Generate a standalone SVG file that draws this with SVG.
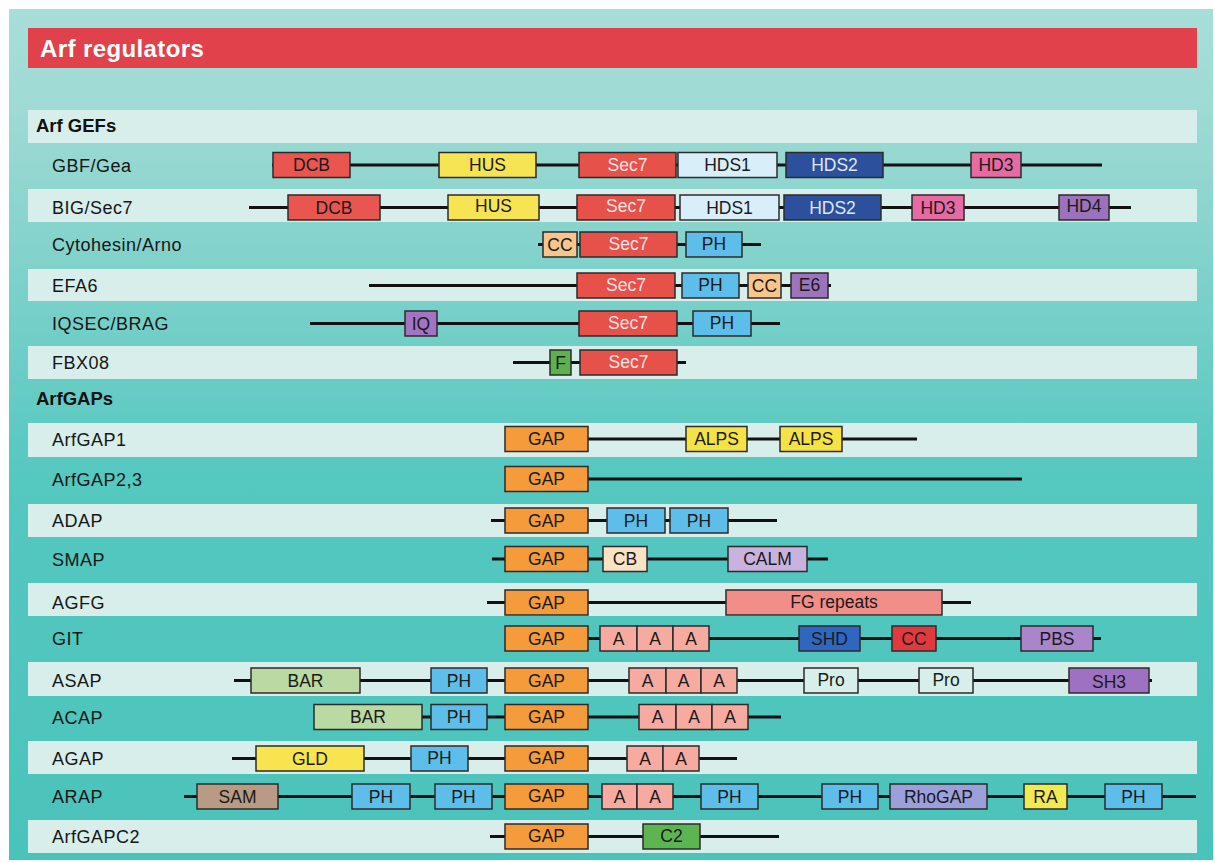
<svg xmlns="http://www.w3.org/2000/svg" width="1215" height="863" viewBox="0 0 1215 863">
<defs>
<linearGradient id="panel" x1="0" y1="0" x2="0" y2="1">
<stop offset="0" stop-color="#a8ded8"/>
<stop offset="0.12" stop-color="#9fdad4"/>
<stop offset="0.3" stop-color="#80d2cb"/>
<stop offset="0.55" stop-color="#55c8c0"/>
<stop offset="1" stop-color="#4ac3bb"/>
</linearGradient>
<style>
.lbl{font-family:"Liberation Sans",Arial,sans-serif;font-size:18px;letter-spacing:0.5px;fill:#161616}
.sec{font-family:"Liberation Sans",Arial,sans-serif;font-size:18.5px;font-weight:bold;fill:#111}
.d{font-family:"Liberation Sans",Arial,sans-serif;font-size:17.5px;text-anchor:middle;fill:#1a1a1a}
.w{fill:#fbe6e6}
.wb{fill:#dfe7f6}
.band{fill:#d8eeeb}
rect.b{stroke:#2b2b2b;stroke-width:1.5}
.bb{stroke:#111;stroke-width:3;fill:none}
.dcb{fill:#e9564f}.sec7{fill:#e6514a}.hus{fill:#f6e455}.hds1{fill:#d8effa}.hds2{fill:#2d509c}
.hd3{fill:#e66ba3}.hd4{fill:#9d72bd}.cc{fill:#f8c58c}.ph{fill:#5dbeea}.e6{fill:#9c74bb}
.iq{fill:#a374c4}.f{fill:#5cb24c}.gap{fill:#f59b3c}.alps{fill:#f6e244}.cb{fill:#fbe2c4}
.calm{fill:#c9b3de}.fg{fill:#f18e88}.a{fill:#f7aaa0}.shd{fill:#2f67c0}.ccr{fill:#e03a3e}
.pbs{fill:#a985c9}.bar{fill:#bbd9a3}.pro{fill:#d6efea}.sh3{fill:#9f71c3}.gld{fill:#f8e44e}
.sam{fill:#b99a84}.rho{fill:#9ca0da}.ra{fill:#f1ea52}.c2{fill:#5db552}
</style>
</defs>

<rect x="0" y="0" width="1215" height="863" fill="#ffffff"/>
<rect x="9" y="9" width="1204" height="851" fill="url(#panel)"/>

<g id="title">
<rect x="28" y="28" width="1169" height="40" fill="#e0414a"/>
<text x="40" y="57" font-family="Liberation Sans, Arial, sans-serif" font-size="24" font-weight="bold" letter-spacing="0.4" fill="#ffffff">Arf regulators</text>
</g>

<g id="bands">
<rect class="band" x="28" y="110" width="1169" height="33"/>
<rect class="band" x="28" y="189" width="1169" height="33"/>
<rect class="band" x="28" y="269" width="1169" height="32"/>
<rect class="band" x="28" y="346" width="1169" height="33"/>
<rect class="band" x="28" y="423" width="1169" height="34"/>
<rect class="band" x="28" y="504" width="1169" height="33"/>
<rect class="band" x="28" y="583" width="1169" height="33"/>
<rect class="band" x="28" y="662" width="1169" height="34"/>
<rect class="band" x="28" y="741" width="1169" height="33"/>
<rect class="band" x="28" y="820" width="1169" height="33"/>
</g>

<g id="section-gefs"><text class="sec" x="36" y="132">Arf GEFs</text></g>
<g id="section-gaps"><text class="sec" x="36" y="405">ArfGAPs</text></g>

<g id="connectors">
<line class="bb" x1="272" y1="165" x2="1102" y2="165"/>
<line class="bb" x1="249" y1="207.5" x2="1131" y2="207.5"/>
<line class="bb" x1="538" y1="244.5" x2="761" y2="244.5"/>
<line class="bb" x1="369" y1="285.5" x2="831" y2="285.5"/>
<line class="bb" x1="310" y1="323.5" x2="780" y2="323.5"/>
<line class="bb" x1="513" y1="362.5" x2="686" y2="362.5"/>
<line class="bb" x1="587" y1="439" x2="917" y2="439"/>
<line class="bb" x1="587" y1="479" x2="1022" y2="479"/>
<line class="bb" x1="491" y1="520.5" x2="777" y2="520.5"/>
<line class="bb" x1="492" y1="559" x2="828" y2="559"/>
<line class="bb" x1="487" y1="602.5" x2="971" y2="602.5"/>
<line class="bb" x1="587" y1="638.5" x2="1101" y2="638.5"/>
<line class="bb" x1="234" y1="680.5" x2="1152" y2="680.5"/>
<line class="bb" x1="314" y1="717" x2="781" y2="717"/>
<line class="bb" x1="232" y1="758.5" x2="737" y2="758.5"/>
<line class="bb" x1="184" y1="796.5" x2="1196" y2="796.5"/>
<line class="bb" x1="490" y1="836.5" x2="779" y2="836.5"/>
</g>

<g id="row-gbf">
<text class="lbl" x="52" y="171.5">GBF/Gea</text>
<rect class="b dcb" x="273" y="152.5" width="77" height="25"/><text class="d" x="311.5" y="171">DCB</text>
<rect class="b hus" x="439" y="152.5" width="97" height="25"/><text class="d" x="487.5" y="171">HUS</text>
<rect class="b sec7" x="579" y="152.5" width="97" height="25"/><text class="d w" x="627.5" y="171">Sec7</text>
<rect class="b hds1" x="678" y="152.5" width="99" height="25"/><text class="d" x="727.5" y="171">HDS1</text>
<rect class="b hds2" x="786" y="152.5" width="97" height="25"/><text class="d wb" x="834.5" y="171">HDS2</text>
<rect class="b hd3" x="971" y="152.5" width="50" height="25"/><text class="d" x="996" y="171">HD3</text>
</g>

<g id="row-big">
<text class="lbl" x="52" y="214">BIG/Sec7</text>
<rect class="b dcb" x="288" y="195" width="92" height="25"/><text class="d" x="334" y="213.5">DCB</text>
<rect class="b hus" x="448" y="195" width="91" height="25"/><text class="d" x="493.5" y="211.5">HUS</text>
<rect class="b sec7" x="577" y="195" width="98" height="25"/><text class="d w" x="626" y="211.5">Sec7</text>
<rect class="b hds1" x="680" y="195" width="99" height="25"/><text class="d" x="729.5" y="213.5">HDS1</text>
<rect class="b hds2" x="784" y="195" width="97" height="25"/><text class="d wb" x="832.5" y="213.5">HDS2</text>
<rect class="b hd3" x="912" y="195" width="52" height="25"/><text class="d" x="938" y="213.5">HD3</text>
<rect class="b hd4" x="1059" y="195" width="50" height="25"/><text class="d" x="1084" y="211.5">HD4</text>
</g>

<g id="row-cytohesin">
<text class="lbl" x="52" y="251">Cytohesin/Arno</text>
<rect class="b cc" x="543" y="232" width="34" height="25"/><text class="d" x="560" y="250.5">CC</text>
<rect class="b sec7" x="580" y="232" width="97" height="25"/><text class="d w" x="628.5" y="249.5">Sec7</text>
<rect class="b ph" x="686" y="232" width="56" height="25"/><text class="d" x="714" y="249.5">PH</text>
</g>

<g id="row-efa6">
<text class="lbl" x="52" y="292">EFA6</text>
<rect class="b sec7" x="577" y="273" width="98" height="25"/><text class="d w" x="626" y="290.5">Sec7</text>
<rect class="b ph" x="682" y="273" width="57" height="25"/><text class="d" x="710.5" y="290.5">PH</text>
<rect class="b cc" x="748" y="273" width="33" height="25"/><text class="d" x="764.5" y="291.5">CC</text>
<rect class="b e6" x="791" y="273" width="37" height="25"/><text class="d" x="809.5" y="291">E6</text>
</g>

<g id="row-iqsec">
<text class="lbl" x="52" y="330">IQSEC/BRAG</text>
<rect class="b iq" x="405" y="311" width="32" height="25"/><text class="d" x="421" y="329.5">IQ</text>
<rect class="b sec7" x="579" y="311" width="98" height="25"/><text class="d w" x="628" y="328.5">Sec7</text>
<rect class="b ph" x="693" y="311" width="58" height="25"/><text class="d" x="722" y="328.5">PH</text>
</g>

<g id="row-fbx08">
<text class="lbl" x="52" y="369">FBX08</text>
<rect class="b f" x="550" y="350" width="21" height="25"/><text class="d" x="560.5" y="368.5">F</text>
<rect class="b sec7" x="580" y="350" width="97" height="25"/><text class="d w" x="628.5" y="367.5">Sec7</text>
</g>

<g id="row-arfgap1">
<text class="lbl" x="52" y="445.5">ArfGAP1</text>
<rect class="b gap" x="505" y="426.5" width="83" height="25"/><text class="d" x="546.5" y="445">GAP</text>
<rect class="b alps" x="686" y="426.5" width="61" height="25"/><text class="d" x="716.5" y="445">ALPS</text>
<rect class="b alps" x="780" y="426.5" width="62" height="25"/><text class="d" x="811" y="445">ALPS</text>
</g>

<g id="row-arfgap23">
<text class="lbl" x="52" y="485.5">ArfGAP2,3</text>
<rect class="b gap" x="505" y="466.5" width="83" height="25"/><text class="d" x="546.5" y="485">GAP</text>
</g>

<g id="row-adap">
<text class="lbl" x="52" y="527">ADAP</text>
<rect class="b gap" x="505" y="508" width="83" height="25"/><text class="d" x="546.5" y="526.5">GAP</text>
<rect class="b ph" x="607" y="508" width="58" height="25"/><text class="d" x="636" y="526.5">PH</text>
<rect class="b ph" x="670" y="508" width="58" height="25"/><text class="d" x="699" y="526.5">PH</text>
</g>

<g id="row-smap">
<text class="lbl" x="52" y="565.5">SMAP</text>
<rect class="b gap" x="505" y="546.5" width="83" height="25"/><text class="d" x="546.5" y="565">GAP</text>
<rect class="b cb" x="603" y="546.5" width="44" height="25"/><text class="d" x="625" y="565">CB</text>
<rect class="b calm" x="728" y="546.5" width="79" height="25"/><text class="d" x="767.5" y="565">CALM</text>
</g>

<g id="row-agfg">
<text class="lbl" x="52" y="609">AGFG</text>
<rect class="b gap" x="505" y="590" width="83" height="25"/><text class="d" x="546.5" y="608.5">GAP</text>
<rect class="b fg" x="726" y="590" width="216" height="25"/><text class="d" x="834" y="607.5">FG repeats</text>
</g>

<g id="row-git">
<text class="lbl" x="52" y="645">GIT</text>
<rect class="b gap" x="505" y="626" width="83" height="25"/><text class="d" x="546.5" y="644.5">GAP</text>
<rect class="b a" x="600" y="626" width="37" height="25"/><text class="d" x="618.5" y="644.5">A</text>
<rect class="b a" x="637" y="626" width="36" height="25"/><text class="d" x="655" y="644.5">A</text>
<rect class="b a" x="673" y="626" width="36" height="25"/><text class="d" x="691" y="644.5">A</text>
<rect class="b shd" x="799" y="626" width="61" height="25"/><text class="d" x="829.5" y="644.5">SHD</text>
<rect class="b ccr" x="892" y="626" width="44" height="25"/><text class="d" x="914" y="644.5">CC</text>
<rect class="b pbs" x="1021" y="626" width="72" height="25"/><text class="d" x="1057" y="644.5">PBS</text>
</g>

<g id="row-asap">
<text class="lbl" x="52" y="687">ASAP</text>
<rect class="b bar" x="251" y="668" width="109" height="25"/><text class="d" x="305.5" y="686.5">BAR</text>
<rect class="b ph" x="431" y="668" width="56" height="25"/><text class="d" x="459" y="686.5">PH</text>
<rect class="b gap" x="505" y="668" width="83" height="25"/><text class="d" x="546.5" y="686.5">GAP</text>
<rect class="b a" x="629" y="668" width="37" height="25"/><text class="d" x="647.5" y="686.5">A</text>
<rect class="b a" x="666" y="668" width="35" height="25"/><text class="d" x="683.5" y="686.5">A</text>
<rect class="b a" x="701" y="668" width="36" height="25"/><text class="d" x="719" y="686.5">A</text>
<rect class="b pro" x="804" y="668" width="54" height="25"/><text class="d" x="831" y="685.5">Pro</text>
<rect class="b pro" x="919" y="668" width="54" height="25"/><text class="d" x="946" y="685.5">Pro</text>
<rect class="b sh3" x="1069" y="668" width="80" height="25"/><text class="d" x="1109" y="687.5">SH3</text>
</g>

<g id="row-acap">
<text class="lbl" x="52" y="723.5">ACAP</text>
<rect class="b bar" x="314" y="704.5" width="108" height="25"/><text class="d" x="368" y="723">BAR</text>
<rect class="b ph" x="431" y="704.5" width="56" height="25"/><text class="d" x="459" y="723">PH</text>
<rect class="b gap" x="505" y="704.5" width="83" height="25"/><text class="d" x="546.5" y="723">GAP</text>
<rect class="b a" x="639" y="704.5" width="37" height="25"/><text class="d" x="657.5" y="723">A</text>
<rect class="b a" x="676" y="704.5" width="36" height="25"/><text class="d" x="694" y="723">A</text>
<rect class="b a" x="712" y="704.5" width="36" height="25"/><text class="d" x="730" y="723">A</text>
</g>

<g id="row-agap">
<text class="lbl" x="52" y="765">AGAP</text>
<rect class="b gld" x="256" y="746" width="108" height="25"/><text class="d" x="310" y="765">GLD</text>
<rect class="b ph" x="411" y="746" width="57" height="25"/><text class="d" x="439.5" y="763.5">PH</text>
<rect class="b gap" x="505" y="746" width="83" height="25"/><text class="d" x="546.5" y="764">GAP</text>
<rect class="b a" x="627" y="746" width="36" height="25"/><text class="d" x="645" y="764.5">A</text>
<rect class="b a" x="663" y="746" width="36" height="25"/><text class="d" x="681" y="764.5">A</text>
</g>

<g id="row-arap">
<text class="lbl" x="52" y="803">ARAP</text>
<rect class="b sam" x="197" y="784" width="81" height="25"/><text class="d" x="237.5" y="802.5">SAM</text>
<rect class="b ph" x="352" y="784" width="58" height="25"/><text class="d" x="381" y="802.5">PH</text>
<rect class="b ph" x="435" y="784" width="57" height="25"/><text class="d" x="463.5" y="802.5">PH</text>
<rect class="b gap" x="505" y="784" width="83" height="25"/><text class="d" x="546.5" y="802">GAP</text>
<rect class="b a" x="602" y="784" width="35" height="25"/><text class="d" x="619.5" y="802.5">A</text>
<rect class="b a" x="637" y="784" width="36" height="25"/><text class="d" x="655" y="802.5">A</text>
<rect class="b ph" x="701" y="784" width="57" height="25"/><text class="d" x="729.5" y="802.5">PH</text>
<rect class="b ph" x="822" y="784" width="56" height="25"/><text class="d" x="850" y="802.5">PH</text>
<rect class="b rho" x="890" y="784" width="97" height="25"/><text class="d" x="938.5" y="802.5">RhoGAP</text>
<rect class="b ra" x="1024" y="784" width="43" height="25"/><text class="d" x="1045.5" y="802.5">RA</text>
<rect class="b ph" x="1105" y="784" width="57" height="25"/><text class="d" x="1133.5" y="802.5">PH</text>
</g>

<g id="row-arfgapc2">
<text class="lbl" x="52" y="843">ArfGAPC2</text>
<rect class="b gap" x="505" y="824" width="83" height="25"/><text class="d" x="546.5" y="842">GAP</text>
<rect class="b c2" x="643" y="824" width="57" height="25"/><text class="d" x="671.5" y="842">C2</text>
</g>
</svg>
